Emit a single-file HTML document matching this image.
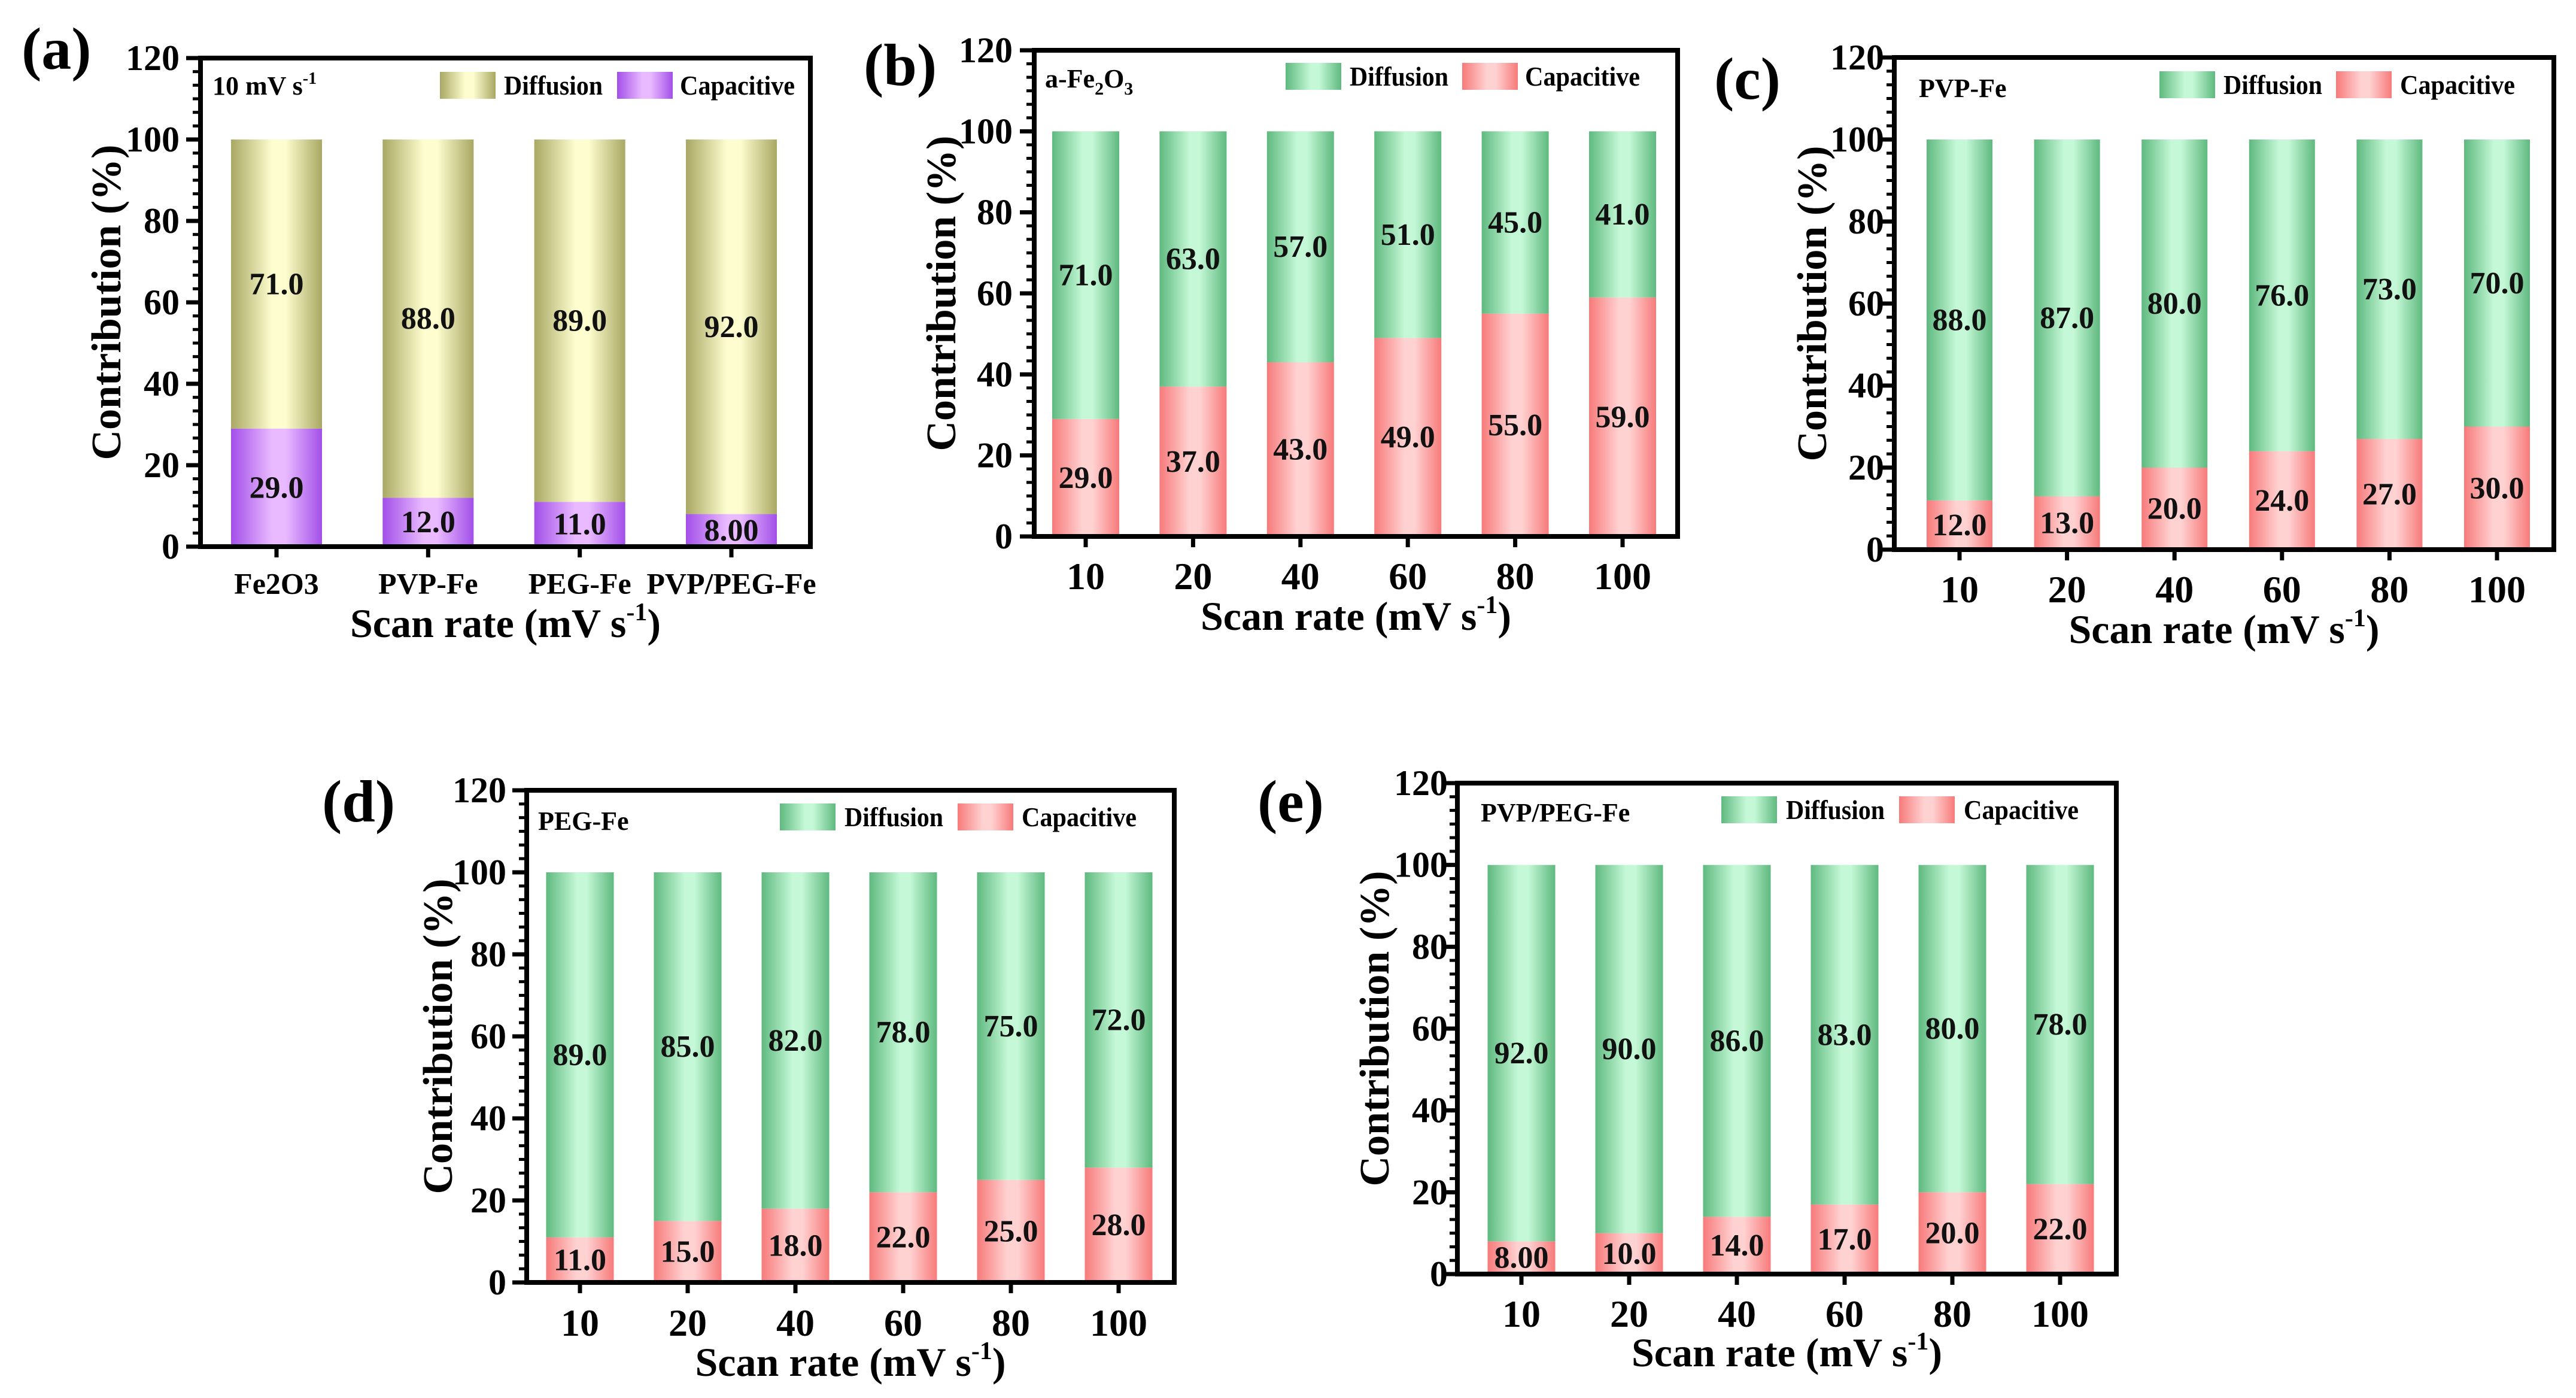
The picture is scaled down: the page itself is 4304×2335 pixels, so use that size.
<!DOCTYPE html>
<html><head><meta charset="utf-8">
<style>
html,body{margin:0;padding:0;background:#fff;}
svg{display:block;font-family:"Liberation Serif","Times New Roman",serif;font-weight:bold;}
</style></head>
<body>
<svg id="fig" width="4304" height="2335" viewBox="0 0 4304 2335" xmlns="http://www.w3.org/2000/svg" font-family="Liberation Serif, serif" font-weight="bold">
<defs>
<linearGradient id="gGreen" x1="0" x2="1" y1="0" y2="0">
<stop offset="0" stop-color="#5fb97f"/><stop offset="0.45" stop-color="#c4f8d6"/><stop offset="0.6" stop-color="#c4f8d6"/><stop offset="1" stop-color="#5fb97f"/></linearGradient>
<linearGradient id="gRed" x1="0" x2="1" y1="0" y2="0">
<stop offset="0" stop-color="#f77a7a"/><stop offset="0.45" stop-color="#ffd2d2"/><stop offset="0.6" stop-color="#ffd2d2"/><stop offset="1" stop-color="#f77a7a"/></linearGradient>
<linearGradient id="gOlive" x1="0" x2="1" y1="0" y2="0">
<stop offset="0" stop-color="#a9a863"/><stop offset="0.45" stop-color="#fdfdcf"/><stop offset="0.6" stop-color="#fdfdcf"/><stop offset="1" stop-color="#a9a863"/></linearGradient>
<linearGradient id="gPurple" x1="0" x2="1" y1="0" y2="0">
<stop offset="0" stop-color="#a24fe8"/><stop offset="0.45" stop-color="#e9baff"/><stop offset="0.6" stop-color="#e9baff"/><stop offset="1" stop-color="#a24fe8"/></linearGradient>
</defs>
</svg>
<script>
// ---- data ----
const catsA = ["Fe2O3","PVP-Fe","PEG-Fe","PVP/PEG-Fe"];
const catsRate = ["10","20","40","60","80","100"];
const capA = [29.0,12.0,11.0,8.00];
const difA = [71.0,88.0,89.0,92.0];
const capB = [29.0,37.0,43.0,49.0,55.0,59.0];
const difB = [71.0,63.0,57.0,51.0,45.0,41.0];
const capC = [12.0,13.0,20.0,24.0,27.0,30.0];
const difC = [88.0,87.0,80.0,76.0,73.0,70.0];
const capD = [11.0,15.0,18.0,22.0,25.0,28.0];
const difD = [89.0,85.0,82.0,78.0,75.0,72.0];
const capE = [8.00,10.0,14.0,17.0,20.0,22.0];
const difE = [92.0,90.0,86.0,83.0,80.0,78.0];
const capLabelsA = ["29.0","12.0","11.0","8.00"];
const capLabelsE = ["8.00","10.0","14.0","17.0","20.0","22.0"];
const yTicks = [0,20,40,60,80,100,120];

const NS="http://www.w3.org/2000/svg";
const svg=document.getElementById('fig');
function mk(tag,attrs,parent){const e=document.createElementNS(NS,tag);for(const k in attrs)e.setAttribute(k,attrs[k]);(parent||svg).appendChild(e);return e;}

const panels=[
 {id:'a',L:335,R:1354,T:97,B:913,c0:462,cN:1222,bw:152,cats:catsA,cap:capA,dif:difA,capLbl:capLabelsA,
  tickR:300,xlY:975,xlFs:50,titleY:1040,ytX:177,lab:{x:36,y:115},leg:{b1:735,t1:842,b2:1031,t2:1136,y:120},
  inset:{x:355,y:158,kind:'rate'},fills:['url(#gPurple)','url(#gOlive)'],legC:['url(#gOlive)','url(#gPurple)']},
 {id:'b',L:1728,R:2803,T:84,B:896,c0:1814,cN:2711,bw:112,cats:catsRate,cap:capB,dif:difB,
  tickR:1692,xlY:963,xlFs:64,titleY:1028,ytX:1572,lab:{x:1443,y:142},leg:{b1:2148,t1:2255,b2:2443,t2:2548,y:105},
  inset:{x:1746,y:146,kind:'fe2o3'}},
 {id:'c',L:3165,R:4267,T:96,B:918,c0:3274,cN:4172,bw:110,cats:catsRate,cap:capC,dif:difC,
  tickR:3148,xlY:985,xlFs:64,titleY:1050,ytX:3027,lab:{x:2864,y:165},leg:{b1:3608,t1:3715,b2:3903,t2:4010,y:119},
  inset:{x:3206,y:162,kind:'text',text:'PVP-Fe'}},
 {id:'d',L:880,R:1962,T:1320,B:2142,c0:969,cN:1869,bw:113,cats:catsRate,cap:capD,dif:difD,
  tickR:846,xlY:2210,xlFs:64,titleY:2274,ytX:731,lab:{x:538,y:1372},leg:{b1:1303,t1:1411,b2:1600,t2:1707,y:1342},
  inset:{x:899,y:1386,kind:'text',text:'PEG-Fe'}},
 {id:'e',L:2435,R:3536,T:1308,B:2128,c0:2542,cN:3442,bw:113,cats:catsRate,cap:capE,dif:difE,capLbl:capLabelsE,
  tickR:2419,xlY:2195,xlFs:64,titleY:2258,ytX:2296,lab:{x:2101,y:1372},leg:{b1:2876,t1:2984,b2:3173,t2:3281,y:1330},
  inset:{x:2474,y:1372,kind:'text',text:'PVP/PEG-Fe'}}
];

panels.forEach(p=>{
  const g=mk('g',{});
  
  
  const fills=p.fills||['url(#gRed)','url(#gGreen)'];
  const legC=p.legC||['url(#gGreen)','url(#gRed)'];
  const y=v=>p.B-(v/120)*(p.B-p.T);
  const n=p.cats.length;
  const x=i=>p.c0+(n===1?0:i*(p.cN-p.c0)/(n-1));
  p.cats.forEach((c,i)=>{
    const cv=p.cap[i], dv=p.dif[i];
    const r1=mk('rect',{x:x(i)-p.bw/2,y:y(cv),width:p.bw,height:p.B-y(cv),fill:fills[0]},g);
    
    
    const r2=mk('rect',{x:x(i)-p.bw/2,y:y(cv+dv),width:p.bw,height:y(cv)-y(cv+dv),fill:fills[1]},g);
    
    
    const t1=mk('text',{x:x(i),y:y(cv/2)+17,'text-anchor':'middle','font-size':52,fill:'#111'},g);
    t1.textContent=p.capLbl?p.capLbl[i]:cv.toFixed(1);
    
    
    const t2=mk('text',{x:x(i),y:y(cv+dv/2)+17,'text-anchor':'middle','font-size':52,fill:'#111'},g);
    t2.textContent=dv.toFixed(1);
    
    
    mk('line',{x1:x(i),x2:x(i),y1:p.B,y2:p.B+18,stroke:'#000','stroke-width':7},g);
    const xl=mk('text',{x:x(i),y:p.xlY+p.xlFs*0.33,'text-anchor':'middle','font-size':p.xlFs},g);
    xl.textContent=c;
    
    
  });
  const fr=mk('rect',{x:p.L,y:p.T,width:p.R-p.L,height:p.B-p.T,fill:'none',stroke:'#000','stroke-width':8},g);
  
  
  for(let v=0;v<=120;v+=20/6){
    const major=Math.abs(v/20-Math.round(v/20))<1e-6;
    if(!major) mk('line',{x1:p.L-13,x2:p.L,y1:y(v),y2:y(v),stroke:'#000','stroke-width':5},g);
  }
  yTicks.forEach(v=>{
    mk('line',{x1:p.L-24,x2:p.L,y1:y(v),y2:y(v),stroke:'#000','stroke-width':7},g);
    const t=mk('text',{x:p.tickR,y:y(v)+20,'text-anchor':'end','font-size':60},g);
    t.textContent=v;
    
    
  });
  const xt=mk('text',{x:(p.L+p.R)/2,y:p.titleY+24,'text-anchor':'middle','font-size':68},g);
  xt.innerHTML='Scan rate (mV s<tspan font-size="42" dy="-28">-1</tspan><tspan dy="28">)</tspan>';
  
  
  const cy=(p.T+p.B)/2;
  const yt=mk('text',{x:p.ytX+24,y:cy,'text-anchor':'middle','font-size':70,transform:`rotate(-90 ${p.ytX+24} ${cy})`},g);
  yt.textContent='Contribution (%)';
  
  
  const pl=mk('text',{x:p.lab.x,y:p.lab.y,'font-size':100},g);
  pl.textContent='('+p.id+')';
  
  
  const lg=mk('g',{},g);
  
  
  const L=p.leg;
  mk('rect',{x:L.b1,y:L.y,width:93,height:45,fill:legC[0]},lg);
  const lt1=mk('text',{x:L.t1,y:L.y+38,'font-size':46,textLength:165,lengthAdjust:'spacingAndGlyphs'},lg);
  lt1.textContent='Diffusion';
  
  
  mk('rect',{x:L.b2,y:L.y,width:93,height:45,fill:legC[1]},lg);
  const lt2=mk('text',{x:L.t2,y:L.y+38,'font-size':46,textLength:192,lengthAdjust:'spacingAndGlyphs'},lg);
  lt2.textContent='Capacitive';
  
  
  const I=p.inset;
  const it=mk('text',{x:I.x,y:I.y,'font-size':44},g);
  if(I.kind==='rate') it.innerHTML='10 mV s<tspan font-size="28" dy="-18">-1</tspan>';
  else if(I.kind==='fe2o3') it.innerHTML='a-Fe<tspan font-size="30" dy="12">2</tspan><tspan dy="-12">O</tspan><tspan font-size="30" dy="12">3</tspan>';
  else it.textContent=I.text;
  
  
});
</script>
</body></html>
